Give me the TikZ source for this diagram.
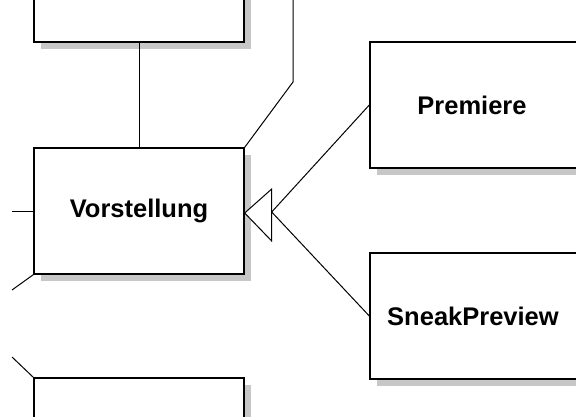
\documentclass[tikz,border=0pt]{standalone}
\usepackage{fontspec}
\setmainfont{Liberation Sans}
\usetikzlibrary{shadows}
\begin{document}
\begin{tikzpicture}[x=1pt,y=-1pt,
  cls/.style={draw=black, line width=1.4pt, fill=white, rectangle, minimum width=210pt, minimum height=126pt, inner sep=0pt,
     font=\fontsize{25.5}{30}\selectfont\bfseries,
     drop shadow={shadow xshift=7pt, shadow yshift=-7pt, fill=black!22, opacity=1}},
  conn/.style={draw=black, line width=1pt}]
\useasboundingbox (0,0) rectangle (576,417);
\clip (0,0) rectangle (576,417);
\node[cls] (top) at (139,-21) {};
\node[cls] (vor) at (139,211) {Vorstellung};
\node[cls] (bot) at (139,441) {};
\node[cls] (pre) at (475,105) {\hspace*{-6pt}Premiere};
\node[cls] (snk) at (475,316) {\hspace*{-4pt}SneakPreview};
\coordinate (rtop) at (293,-5);
\coordinate (rbend) at (293,82);
\coordinate (l1) at (12,211);
\coordinate (l2) at (12,290);
\coordinate (l3) at (12,357);
\coordinate (tb) at ([xshift=27pt,yshift=-1pt]vor.east);
\coordinate (tu) at ([xshift=27pt,yshift=22pt]vor.east);
\coordinate (td) at ([xshift=27pt,yshift=-30pt]vor.east);
\coordinate (ta) at ([yshift=-2pt]vor.east);
\draw[conn] (top.south) -- (vor.north);
\draw[conn] (vor.north east) -- (rbend) -- (rtop);
\draw[conn] (vor.west) -- (l1);
\draw[conn] (vor.south west) -- (l2);
\draw[conn] (bot.north west) -- (l3);
\draw[conn] (pre.west) -- (tb);
\draw[conn] (snk.west) -- (tb);
\draw[conn, fill=white, line join=miter] (ta) -- (tu) -- (td) -- cycle;
\end{tikzpicture}
\end{document}
